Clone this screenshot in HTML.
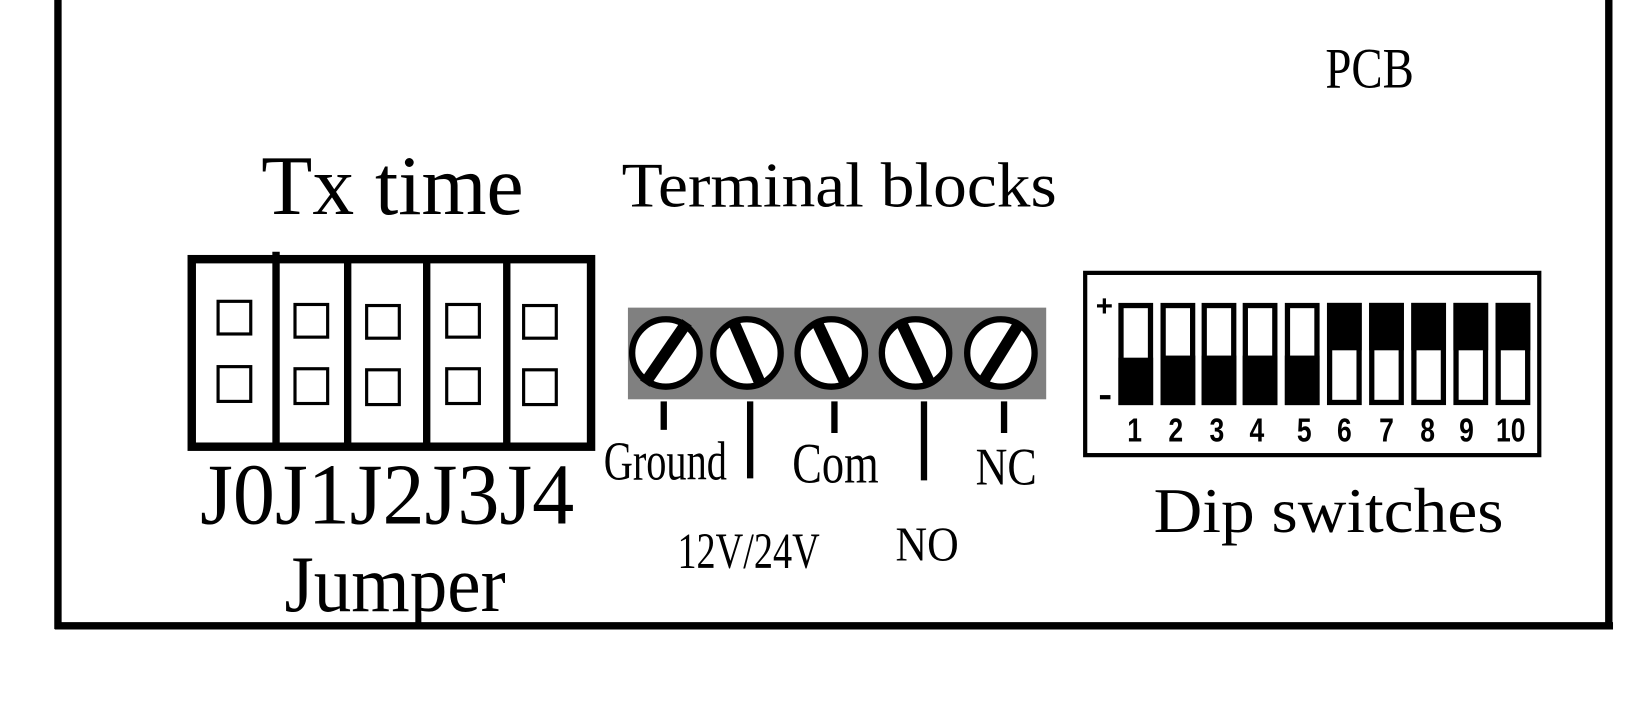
<!DOCTYPE html>
<html><head><meta charset="utf-8"><style>
html,body{margin:0;padding:0;background:#fff;}
svg{display:block;}
text{font-family:"Liberation Serif","DejaVu Serif",serif;fill:#000;}
.n{font-family:"Liberation Sans Narrow","Liberation Sans",sans-serif;font-weight:bold;}
</style></head><body>
<svg width="1652" height="722" viewBox="0 0 1568 685.3" preserveAspectRatio="none" xmlns="http://www.w3.org/2000/svg">
<rect width="1568" height="686" fill="#fff"/>
<line x1="55" y1="0" x2="55" y2="597" stroke="#000" stroke-width="7"/>
<line x1="1527" y1="0" x2="1527" y2="597" stroke="#000" stroke-width="7"/>
<line x1="52" y1="594" x2="1531" y2="594" stroke="#000" stroke-width="7"/>
<text x="1258" y="83" font-size="54" textLength="84" lengthAdjust="spacingAndGlyphs">PCB</text>
<text x="248" y="203" font-size="80" textLength="249" lengthAdjust="spacingAndGlyphs">Tx time</text>
<text x="590" y="196" font-size="60" textLength="413" lengthAdjust="spacingAndGlyphs">Terminal blocks</text>
<rect x="182" y="246" width="379" height="178" fill="none" stroke="#000" stroke-width="8"/>
<line x1="262" y1="239" x2="262" y2="424" stroke="#000" stroke-width="7"/>
<line x1="330" y1="242" x2="330" y2="424" stroke="#000" stroke-width="7"/>
<line x1="405" y1="246" x2="405" y2="424" stroke="#000" stroke-width="7"/>
<line x1="481" y1="246" x2="481" y2="424" stroke="#000" stroke-width="7"/>
<g fill="none" stroke="#000" stroke-width="3">
<rect x="207" y="286" width="31" height="31"/><rect x="207" y="348" width="31" height="33"/>
<rect x="280" y="289" width="31" height="31"/><rect x="280" y="350" width="31" height="33"/>
<rect x="348" y="290" width="31" height="31"/><rect x="348" y="351" width="31" height="33"/>
<rect x="424" y="289" width="31" height="31"/><rect x="424" y="350" width="31" height="33"/>
<rect x="497" y="290" width="31" height="31"/><rect x="497" y="351" width="31" height="33"/>
</g>
<text x="190" y="497" font-size="82" textLength="355" lengthAdjust="spacingAndGlyphs">J0J1J2J3J4</text>
<text x="270" y="580" font-size="76" textLength="210" lengthAdjust="spacingAndGlyphs">Jumper</text>
<rect x="596" y="292" width="397" height="87" fill="#808080"/>
<g stroke="#000">
<circle cx="632" cy="335" r="32" fill="#fff" stroke-width="6"/>
<circle cx="709" cy="335" r="32" fill="#fff" stroke-width="6"/>
<circle cx="789" cy="335" r="32" fill="#fff" stroke-width="6"/>
<circle cx="869" cy="335" r="32" fill="#fff" stroke-width="6"/>
<circle cx="950" cy="335" r="32" fill="#fff" stroke-width="6"/>
<line x1="652" y1="306" x2="612" y2="364" stroke-width="11"/>
<line x1="696" y1="305" x2="722" y2="365" stroke-width="11"/>
<line x1="775" y1="305" x2="803" y2="365" stroke-width="11"/>
<line x1="855" y1="305" x2="883" y2="365" stroke-width="11"/>
<line x1="968" y1="306" x2="932" y2="364" stroke-width="11"/>
<g stroke-width="6">
<line x1="630" y1="381" x2="630" y2="408"/>
<line x1="712" y1="381" x2="712" y2="454"/>
<line x1="792" y1="381" x2="792" y2="411"/>
<line x1="877" y1="381" x2="877" y2="456"/>
<line x1="953" y1="381" x2="953" y2="411"/>
</g>
</g>
<text x="573" y="455" font-size="52" textLength="117" lengthAdjust="spacingAndGlyphs">Ground</text>
<text x="752" y="458" font-size="54" textLength="82" lengthAdjust="spacingAndGlyphs">Com</text>
<text x="926" y="460" font-size="50" textLength="58" lengthAdjust="spacingAndGlyphs">NC</text>
<text x="643" y="539" font-size="48" textLength="135" lengthAdjust="spacingAndGlyphs">12V/24V</text>
<text x="850" y="532" font-size="46" textLength="60" lengthAdjust="spacingAndGlyphs">NO</text>
<rect x="1030" y="259" width="431" height="173" fill="none" stroke="#000" stroke-width="4"/>
<text class="n" x="1040" y="300" font-size="28">+</text>
<rect x="1044" y="375" width="10" height="4" fill="#000"/>
<g stroke="#000" stroke-width="5">
<rect x="1064" y="290" width="28" height="92" fill="#fff"/><rect x="1064" y="342" width="28" height="40" fill="#000"/>
<rect x="1104" y="290" width="28" height="92" fill="#fff"/><rect x="1104" y="340" width="28" height="42" fill="#000"/>
<rect x="1143" y="290" width="28" height="92" fill="#fff"/><rect x="1143" y="340" width="28" height="42" fill="#000"/>
<rect x="1182" y="290" width="28" height="92" fill="#fff"/><rect x="1182" y="340" width="28" height="42" fill="#000"/>
<rect x="1222" y="290" width="28" height="92" fill="#fff"/><rect x="1222" y="340" width="28" height="42" fill="#000"/>
<rect x="1262" y="290" width="28" height="92" fill="#fff"/><rect x="1262" y="290" width="28" height="40" fill="#000"/>
<rect x="1302" y="290" width="28" height="92" fill="#fff"/><rect x="1302" y="290" width="28" height="40" fill="#000"/>
<rect x="1342" y="290" width="28" height="92" fill="#fff"/><rect x="1342" y="290" width="28" height="40" fill="#000"/>
<rect x="1382" y="290" width="28" height="92" fill="#fff"/><rect x="1382" y="290" width="28" height="40" fill="#000"/>
<rect x="1422" y="290" width="28" height="92" fill="#fff"/><rect x="1422" y="290" width="28" height="40" fill="#000"/>
</g>
<g font-size="32" text-anchor="middle">
<text class="n" x="1077" y="419" textLength="14" lengthAdjust="spacingAndGlyphs">1</text>
<text class="n" x="1116" y="419" textLength="14" lengthAdjust="spacingAndGlyphs">2</text>
<text class="n" x="1155" y="419" textLength="14" lengthAdjust="spacingAndGlyphs">3</text>
<text class="n" x="1193" y="419" textLength="14" lengthAdjust="spacingAndGlyphs">4</text>
<text class="n" x="1238" y="419" textLength="14" lengthAdjust="spacingAndGlyphs">5</text>
<text class="n" x="1276" y="419" textLength="14" lengthAdjust="spacingAndGlyphs">6</text>
<text class="n" x="1316" y="419" textLength="14" lengthAdjust="spacingAndGlyphs">7</text>
<text class="n" x="1355" y="419" textLength="14" lengthAdjust="spacingAndGlyphs">8</text>
<text class="n" x="1392" y="419" textLength="14" lengthAdjust="spacingAndGlyphs">9</text>
<text class="n" x="1434" y="419" textLength="28" lengthAdjust="spacingAndGlyphs">10</text>
</g>
<text x="1095" y="505" font-size="60" textLength="332" lengthAdjust="spacingAndGlyphs">Dip switches</text>
</svg>
</body></html>
